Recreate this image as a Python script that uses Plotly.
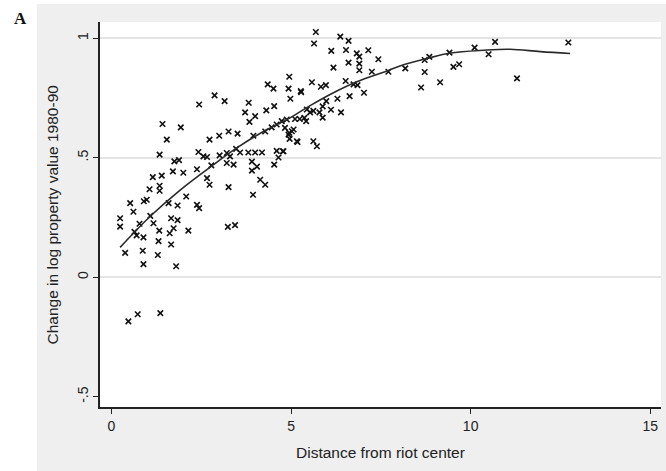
import plotly.graph_objects as go

# Scatter data: distance from riot center (x) and change in log property value 1980-90 (y)
dist = [
    0.47, 0.73, 1.36,
    0.89, 1.80, 0.38, 0.87, 1.29, 1.31, 1.66, 0.64, 0.89, 0.78, 1.08, 1.17, 1.33, 1.62, 1.73,
    1.66, 1.84, 2.14, 0.24, 0.24, 0.52, 0.61, 0.70, 0.98, 0.90, 1.06, 1.34, 1.34, 1.15, 1.40,
    1.71, 2.00, 1.75, 1.88, 1.59, 1.84, 2.08, 2.38, 2.44, 2.66, 2.73, 2.38, 3.24, 3.44, 1.42,
    1.54, 1.93, 1.34,
    2.44, 2.87, 3.15, 3.82, 3.72, 4.00, 3.84, 4.31, 4.53, 4.98, 5.28, 2.73, 3.00, 3.26, 3.51,
    3.95, 4.28, 4.46, 4.60, 4.74, 4.88, 5.11, 4.83, 4.95, 5.07, 4.96, 5.18, 5.44, 5.37, 2.42,
    2.56, 2.66, 3.01, 3.21, 3.30, 3.47, 3.58, 3.81, 4.00, 4.19, 4.60, 4.79, 4.65, 4.53, 2.78,
    3.21, 3.40, 3.91, 3.91, 4.05, 4.14, 4.28, 3.26, 3.94,
    5.69, 5.64, 6.37, 6.60, 6.12, 6.53, 6.83, 6.90, 7.15, 7.43, 6.60, 6.90, 6.18, 6.90, 7.25,
    7.71, 8.18, 6.52, 6.74, 6.85, 7.03, 6.63, 6.29, 5.98, 4.95, 5.58, 5.83, 5.97, 4.93, 5.27,
    6.39, 6.11, 5.88, 5.79, 5.88, 5.62, 5.53, 5.42, 5.24, 5.02, 4.93, 5.16, 5.62, 5.72, 4.77,
    4.35, 4.51,
    10.11, 10.68, 10.50, 9.41, 8.85, 8.72, 8.72, 9.52, 9.68, 8.62, 9.15, 11.29, 12.72,
]
change = [
    -0.185, -0.155, -0.150,
    0.055, 0.046, 0.102, 0.111, 0.093, 0.151, 0.137, 0.190, 0.167, 0.224, 0.257, 0.226, 0.195, 0.184, 0.205,
    0.247, 0.239, 0.195, 0.247, 0.212, 0.310, 0.274, 0.175, 0.324, 0.318, 0.368, 0.383, 0.362, 0.419, 0.425,
    0.443, 0.437, 0.485, 0.490, 0.310, 0.300, 0.338, 0.303, 0.289, 0.415, 0.387, 0.452, 0.211, 0.218, 0.641,
    0.576, 0.627, 0.513,
    0.723, 0.761, 0.737, 0.730, 0.690, 0.674, 0.650, 0.698, 0.716, 0.747, 0.774, 0.576, 0.592, 0.610, 0.601,
    0.592, 0.610, 0.627, 0.639, 0.653, 0.660, 0.662, 0.625, 0.604, 0.618, 0.579, 0.566, 0.702, 0.667, 0.524,
    0.506, 0.503, 0.510, 0.520, 0.506, 0.537, 0.522, 0.522, 0.522, 0.522, 0.529, 0.527, 0.501, 0.471, 0.468,
    0.478, 0.471, 0.484, 0.446, 0.463, 0.408, 0.387, 0.377, 0.345,
    1.026, 0.978, 1.007, 0.989, 0.947, 0.951, 0.937, 0.923, 0.950, 0.912, 0.898, 0.894, 0.877, 0.866, 0.860,
    0.860, 0.874, 0.821, 0.807, 0.804, 0.772, 0.758, 0.747, 0.737, 0.839, 0.816, 0.797, 0.804, 0.789, 0.779,
    0.690, 0.701, 0.715, 0.690, 0.668, 0.696, 0.690, 0.653, 0.662, 0.611, 0.597, 0.569, 0.569, 0.548, 0.527,
    0.807, 0.789,
    0.961, 0.985, 0.933, 0.940, 0.922, 0.909, 0.859, 0.880, 0.891, 0.794, 0.816, 0.832, 0.982,
]

# Fitted (smoothed) curve
fit_x = [0.24, 1.08, 1.92, 2.84, 3.49, 4.23, 4.97, 5.53, 6.18, 6.83, 7.67, 8.03, 8.78, 9.43, 10.36, 11.10, 11.94, 12.77]
fit_y = [0.125, 0.255, 0.366, 0.471, 0.541, 0.610, 0.667, 0.718, 0.772, 0.818, 0.863, 0.884, 0.915, 0.938, 0.950, 0.954, 0.944, 0.936]

x_ticks = [0, 5, 10, 15]
y_ticks = [-0.5, 0, 0.5, 1]
y_tick_text = ["-.5", "0", ".5", "1"]
grid_vals = [0, 0.5, 1]

FONT = "Liberation Sans, Arial, sans-serif"
GRAY_BG = "#efefef"

fig = go.Figure()
fig.add_trace(go.Scatter(
    x=dist, y=change, mode="markers",
    marker=dict(symbol="x-thin", size=5.5, color="#111111",
                line=dict(width=1.6, color="#111111")),
    showlegend=False, hoverinfo="skip",
))
fig.add_trace(go.Scatter(
    x=fit_x, y=fit_y, mode="lines", line=dict(color="#2a2a2a", width=1.6, shape="spline"),
    showlegend=False, hoverinfo="skip",
))
# empty trace to activate the grid-only overlay axis
fig.add_trace(go.Scatter(x=[None], y=[None], yaxis="y2", showlegend=False, hoverinfo="skip"))

yr = [-0.543, 1.068]
fig.update_layout(
    width=666, height=471,
    margin=dict(l=100, r=5, t=22, b=64),
    paper_bgcolor=GRAY_BG, plot_bgcolor="white",
    font=dict(family=FONT, color="#222222", size=14),
    xaxis=dict(range=[-0.32, 15.3], tickvals=x_ticks, ticks="outside", ticklen=5, tickwidth=1.2,
               tickcolor="#222", showline=True, linecolor="#222", linewidth=1.5, automargin=False,
               showgrid=False, zeroline=False, tickfont=dict(size=14)),
    yaxis=dict(range=yr, tickvals=y_ticks, ticktext=y_tick_text, ticks="outside", ticklen=5,
               tickwidth=1.2, tickcolor="#222", showline=True, linecolor="#222", linewidth=1.5,
               automargin=False, showgrid=False, zeroline=False, tickangle=-90,
               tickfont=dict(size=14)),
    yaxis2=dict(range=yr, overlaying="y", tickvals=grid_vals, showgrid=True, gridcolor="#e4e4e4",
                gridwidth=1.5, showticklabels=False, ticks="", zeroline=False, showline=False,
                automargin=False),
    shapes=[
        dict(type="rect", xref="paper", yref="paper", x0=-0.2, x1=(37 - 100) / 561,
             y0=-0.2, y1=1.1, fillcolor="white", line=dict(width=0), layer="below"),
        dict(type="rect", xref="paper", yref="paper", x0=-0.2, x1=1.1,
             y0=(407 - 4) / 385, y1=1.1, fillcolor="white", line=dict(width=0), layer="below"),
    ],
    annotations=[
        dict(text="A", xref="paper", yref="paper", x=(20 - 100) / 561, y=(407 - 18) / 385,
             showarrow=False, font=dict(family="Liberation Serif, Times New Roman, serif", size=17,
                                        color="#111"), xanchor="center", yanchor="middle"),
        dict(text="Distance from riot center", xref="paper", yref="paper", x=0.5,
             y=(407 - 452) / 385, showarrow=False, font=dict(size=15.5),
             xanchor="center", yanchor="middle"),
        dict(text="Change in log property value 1980-90", xref="paper", yref="paper",
             x=(52 - 100) / 561, y=0.5, showarrow=False, textangle=-90, font=dict(size=15.5),
             xanchor="center", yanchor="middle"),
    ],
)
fig.update_annotations(selector=dict(text="A"), font_weight="bold")

fig.write_html("out.html", config={"displayModeBar": False},
               post_script="document.body.style.margin='0px';")
